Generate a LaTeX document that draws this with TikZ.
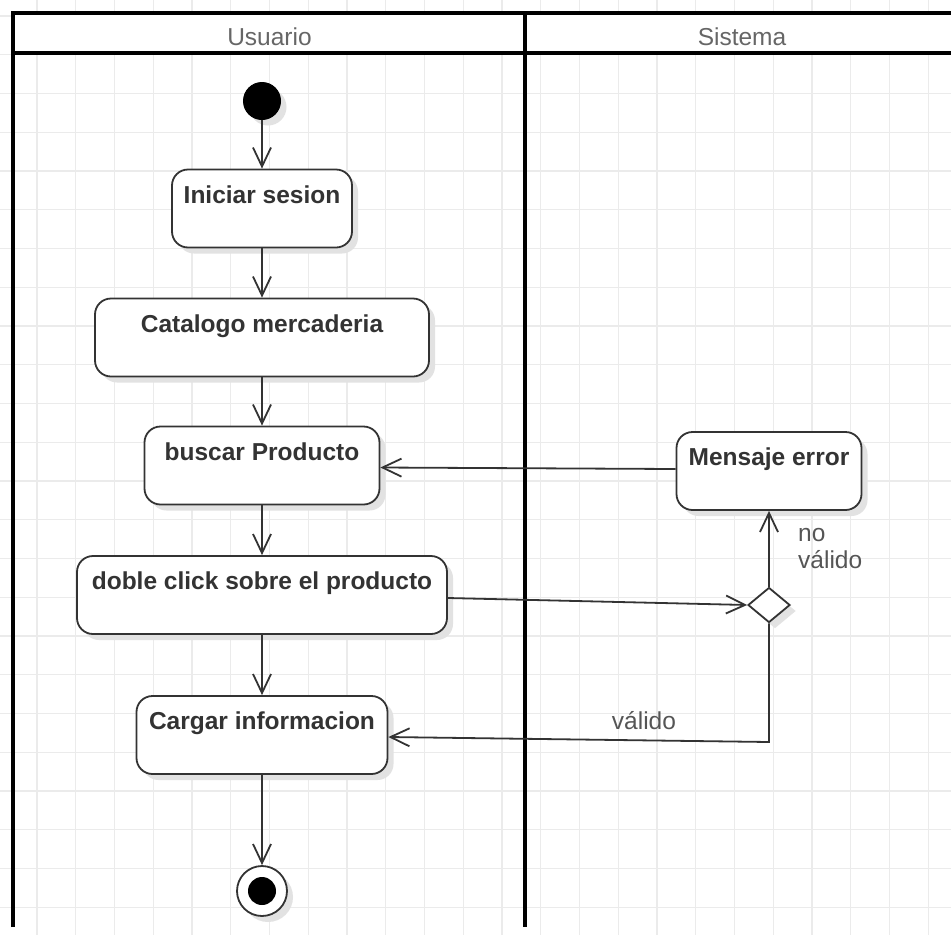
\documentclass[tikz,border=0pt]{standalone}
\usepackage{fontspec}
\setmainfont{Liberation Sans}
\usetikzlibrary{arrows.meta,shapes.geometric,shadows,calc}
\definecolor{ink}{HTML}{333333}
\definecolor{hdr}{HTML}{666666}
\definecolor{lblc}{HTML}{555555}
\definecolor{gridc}{HTML}{EBEBEB}
\definecolor{shadc}{HTML}{E2E2E2}
\begin{document}
\begin{tikzpicture}[x=1pt,y=-1pt,
  gridline/.style={draw=gridc,line width=1.2pt},
  poolline/.style={draw=black,line width=3.5pt},
  shad/.style={drop shadow={shadow xshift=6pt,shadow yshift=-6pt,opacity=1,fill=shadc}},
  act/.style={draw=ink,line width=1.8pt,fill=white,rounded corners=16pt,minimum height=78pt,inner sep=0pt,shad},
  acttext/.style={text=ink,font=\fontsize{24.5}{28}\selectfont\bfseries,inner sep=0pt,anchor=base},
  hdrtext/.style={text=hdr,font=\fontsize{24.5}{28}\selectfont,inner sep=0pt,anchor=base},
  lbltext/.style={text=lblc,font=\fontsize{24.5}{26.5}\selectfont,inner sep=0pt},
  flow/.style={draw=ink,line width=1.8pt,-{Straight Barb[length=19pt,width=18pt,line width=1.8pt]}}
]
\useasboundingbox (0,0) rectangle (951,935);
\fill[white] (0,0) rectangle (951,935);
% grid
\foreach \i in {1,...,25} {\draw[gridline] ({-1.75+38.75*\i},0) -- ({-1.75+38.75*\i},935);}
\foreach \i in {0,...,24} {\draw[gridline] (0,{16+38.75*\i}) -- (951,{16+38.75*\i});}
% pool
\fill[white] (13,13) rectangle (951,53);
\draw[poolline] (13,927) -- (13,13) -- (951,13);
\draw[poolline] (13,53) -- (951,53);
\draw[poolline] (525,13) -- (525,927);
\node[hdrtext] (husr) at (269.5,45) {Usuario};
\node[hdrtext] (hsis) at (742,45) {Sistema};
% nodes
\node[circle,fill=black,draw=black,line width=1pt,minimum size=37pt,inner sep=0pt,shad] (start) at (262,101) {};
\node[act,minimum width=180pt] (ini) at (262,208.5) {};
\node[acttext] (iniT) at ($(ini.north)+(0,34.5)$) {Iniciar sesion};
\node[act,minimum width=334pt] (cat) at (262,337.5) {};
\node[acttext] (catT) at ($(cat.north)+(0,34.5)$) {Catalogo mercaderia};
\node[act,minimum width=235pt] (bus) at (262,465.5) {};
\node[acttext] (busT) at ($(bus.north)+(0,34.5)$) {buscar Producto};
\node[act,minimum width=370pt] (dob) at (262,595) {};
\node[acttext] (dobT) at ($(dob.north)+(0,34.5)$) {doble click sobre el producto};
\node[act,minimum width=251pt] (car) at (262,735) {};
\node[acttext] (carT) at ($(car.north)+(0,34.5)$) {Cargar informacion};
\node[act,minimum width=185pt] (men) at (769,471) {};
\node[acttext] (menT) at ($(men.north)+(0,34.5)$) {Mensaje error};
\node[diamond,draw=ink,fill=white,line width=1.8pt,minimum width=42pt,minimum height=35pt,inner sep=0pt,shad] (dec) at (769,605) {};
\node[circle,draw=ink,fill=white,line width=1.8pt,minimum size=50pt,inner sep=0pt,shad] (end) at (262,891) {};
\node[circle,fill=black,minimum size=28pt,inner sep=0pt] (endin) at (end.center) {};
% connectors
\draw[flow] (start) -- (ini);
\draw[flow] (ini) -- (cat);
\draw[flow] (cat) -- (bus);
\draw[flow] (bus) -- (dob);
\draw[flow] (dob) -- (car);
\draw[flow] (car) -- (end);
\draw[flow] ([yshift=2pt]men.west) -- ([yshift=-2pt]bus.east);
\draw[flow] ([yshift=-3pt]dob.east) -- (dec.west);
\draw[flow] (dec.north) -- (men.south);
\draw[flow] (dec.south) -- (dec.south |- 0,742) -- ([yshift=-2pt]car.east);
% labels
\node[lbltext,anchor=base west,align=left] (nv) at (798,568) {no\\válido};
\node[lbltext,anchor=base] (val) at (644,729) {válido};
\end{tikzpicture}
\end{document}
